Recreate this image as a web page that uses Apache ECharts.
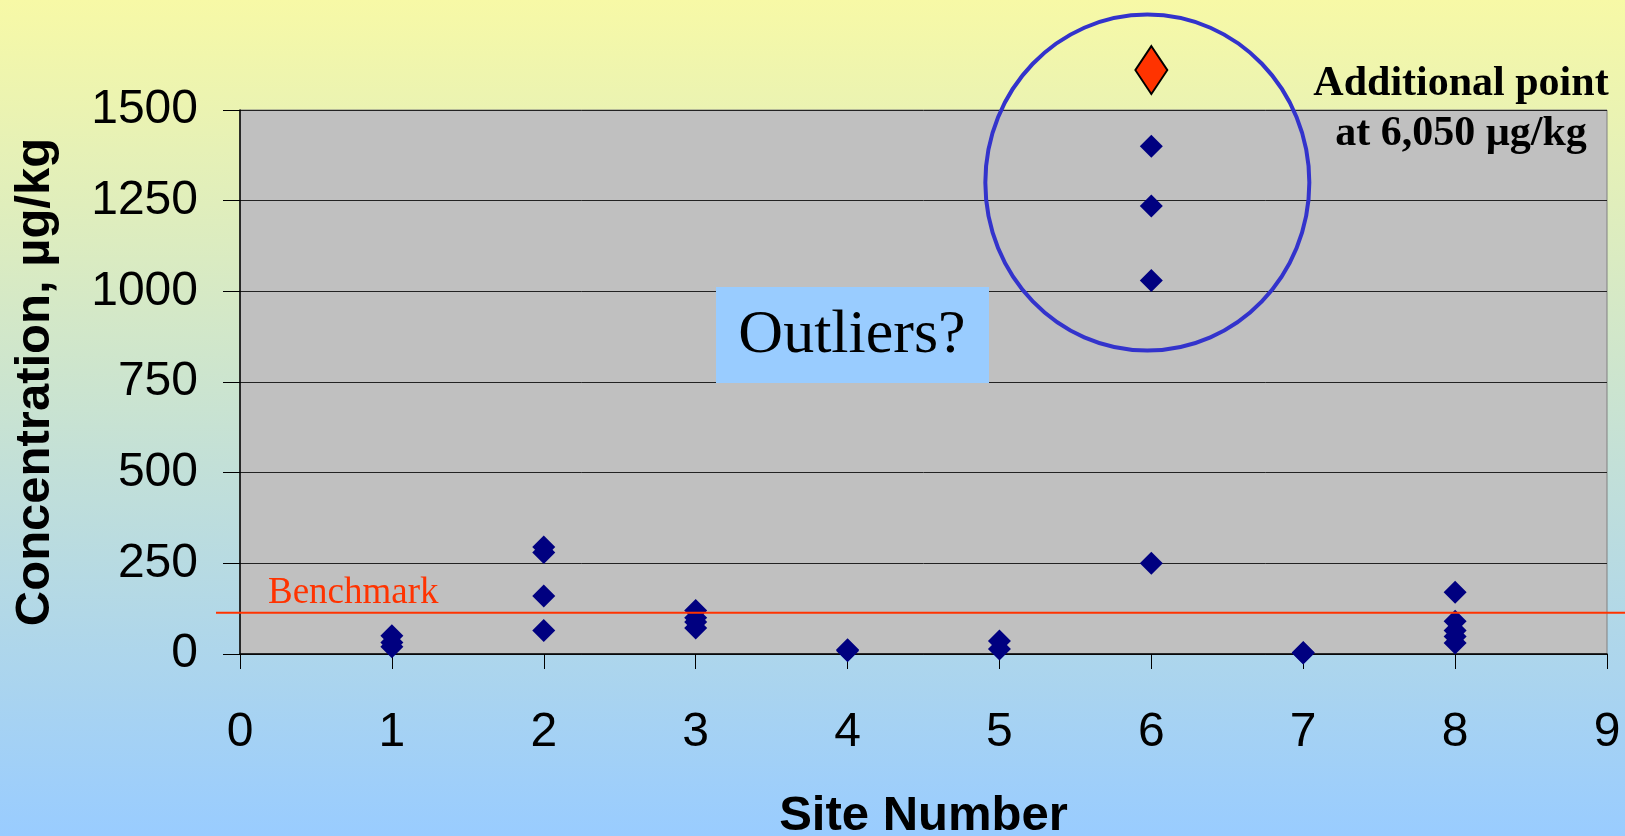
<!DOCTYPE html>
<html>
<head>
<meta charset="utf-8">
<title>Concentration by site</title>
<script src="https://cdn.jsdelivr.net/npm/echarts@6.0.0/dist/echarts.min.js"></script>
<style>
  html, body { margin: 0; padding: 0; }
  #chart { width: 1625px; height: 836px; }
</style>
</head>
<body>
<div id="chart"></div>
<script>
// values, µg/kg
const siteNumbers = [1, 2, 3, 4, 5, 6, 7, 8]
const site1 = [50, 32, 20]
const site2 = [295, 280, 160, 65]
const site3 = [120, 100, 88, 72]
const site4 = [12, 9]
const site5 = [36, 14]
const site6 = [1400, 1235, 1030, 250]
const site7 = [4, 3]
const site8 = [170, 90, 65, 48, 30]
const benchmark = 114
// the off-scale point (6,050 µg/kg) is drawn just above the top of the axis
const extraSite = 6
const extraPlotValue = 1610
const xTicks = [0, 9, 1]
const yTicks = [0, 1500, 250]

const siteValues = [site1, site2, site3, site4, site5, site6, site7, site8]
const points = []
siteValues.forEach((vals, i) => {
  vals.forEach(v => points.push([siteNumbers[i], v]))
})

const sans = 'Liberation Sans'
const serif = 'Liberation Serif'

const chart = echarts.init(document.getElementById('chart'))
chart.setOption({
  animation: false,
  backgroundColor: {
    type: 'linear', x: 0, y: 0, x2: 0, y2: 1,
    colorStops: [
      { offset: 0, color: '#F7F9A6' },
      { offset: 1, color: '#99CCFF' }
    ]
  },
  grid: {
    left: 240, right: 18, top: 110, bottom: 182,
    outerBoundsMode: 'none',
    containLabel: false,
    show: true,
    backgroundColor: '#C0C0C0',
    borderColor: '#808080',
    borderWidth: 1
  },
  xAxis: {
    type: 'value',
    min: xTicks[0], max: xTicks[1], interval: xTicks[2],
    name: 'Site Number',
    nameLocation: 'middle',
    nameGap: 138,
    nameTextStyle: { fontFamily: sans, fontSize: 49, fontWeight: 'bold', color: '#000' },
    axisLine: { show: true, onZero: false, lineStyle: { color: '#000', width: 1.5 } },
    axisTick: { show: true, length: 15, lineStyle: { color: '#000' } },
    axisLabel: { fontFamily: sans, fontSize: 48, color: '#000', margin: 55 },
    splitLine: { show: false }
  },
  yAxis: {
    type: 'value',
    min: yTicks[0], max: yTicks[1], interval: yTicks[2],
    name: 'Concentration, µg/kg',
    nameLocation: 'middle',
    nameGap: 180,
    nameTextStyle: { fontFamily: sans, fontSize: 49, fontWeight: 'bold', color: '#000' },
    axisLine: { show: true, lineStyle: { color: '#000', width: 1.5 } },
    axisTick: { show: true, length: 17, lineStyle: { color: '#000' } },
    axisLabel: {
      fontFamily: sans, fontSize: 48, color: '#000', margin: 42,
      formatter: v => String(v)
    },
    splitLine: { show: true, lineStyle: { color: '#222', width: 1 } }
  },
  series: [
    {
      name: 'Samples',
      type: 'scatter',
      symbol: 'diamond',
      symbolSize: 23,
      itemStyle: { color: '#000080', opacity: 1 },
      data: points,
      z: 3
    },
    {
      name: 'Additional point',
      type: 'scatter',
      symbol: 'diamond',
      symbolSize: [32, 48],
      clip: false,
      itemStyle: { color: '#FF3300', borderColor: '#000', borderWidth: 2, opacity: 1 },
      data: [[extraSite, extraPlotValue]],
      z: 3
    }
  ]
})

// annotations positioned from the axes
const benchY = chart.convertToPixel({ yAxisIndex: 0 }, benchmark)
const circleC = chart.convertToPixel({ xAxisIndex: 0, yAxisIndex: 0 }, [extraSite, 1300])

chart.setOption({
  graphic: [
    {
      type: 'line',
      z: 50,
      shape: { x1: 216, y1: benchY, x2: 1625, y2: benchY },
      style: { stroke: '#FF3300', lineWidth: 2 }
    },
    {
      type: 'text',
      z: 50,
      style: {
        x: 268, y: benchY - 19,
        text: 'Benchmark',
        font: '37px "' + serif + '"',
        fill: '#FF3300',
        verticalAlign: 'middle'
      }
    },
    {
      type: 'rect',
      z: 40,
      shape: { x: 716, y: 287, width: 273, height: 96 },
      style: { fill: '#99CCFF' }
    },
    {
      type: 'text',
      z: 41,
      style: {
        x: 852, y: 336,
        text: 'Outliers?',
        font: '62px "' + serif + '"',
        fill: '#000',
        align: 'center',
        verticalAlign: 'middle'
      }
    },
    {
      type: 'ellipse',
      z: 45,
      shape: { cx: circleC[0] - 4, cy: circleC[1], rx: 162, ry: 168 },
      style: { fill: 'none', stroke: '#3333CC', lineWidth: 4 }
    },
    {
      type: 'text',
      z: 50,
      style: {
        x: 1461, y: 84,
        text: 'Additional point',
        font: 'bold 42px "' + serif + '"',
        fill: '#000',
        align: 'center',
        verticalAlign: 'middle'
      }
    },
    {
      type: 'text',
      z: 50,
      style: {
        x: 1461, y: 134,
        text: 'at 6,050 µg/kg',
        font: 'bold 42px "' + serif + '"',
        fill: '#000',
        align: 'center',
        verticalAlign: 'middle'
      }
    }
  ]
})
</script>
</body>
</html>
